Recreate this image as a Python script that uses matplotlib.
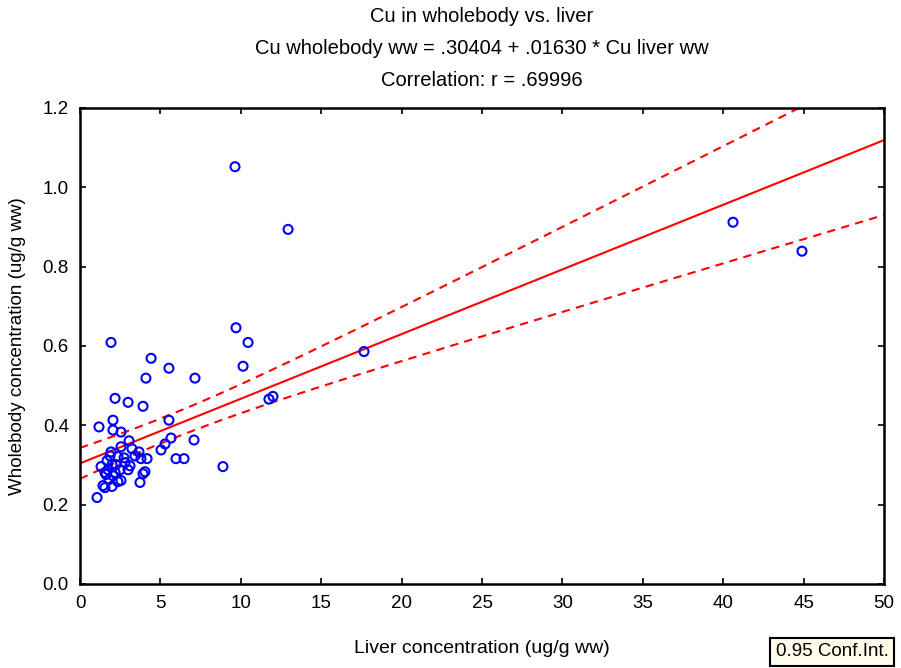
import numpy as np
import matplotlib
matplotlib.use("Agg")
import matplotlib.pyplot as plt
from matplotlib import font_manager

# Copper concentrations (ug/g wet weight)
liver_cu = [
    9.64, 12.94, 40.61, 44.90, 9.70, 10.45, 10.14, 17.66, 1.93, 4.42,
    5.53, 4.10, 7.15, 2.18, 2.99, 3.92, 11.75, 12.00, 1.18, 2.05,
    5.53, 2.05, 2.55, 3.05, 5.66, 7.09, 5.29, 5.04, 2.55, 1.93,
    3.23, 3.67, 3.79, 4.17, 5.97, 6.47, 8.89, 1.31, 1.68, 2.36,
    1.99, 2.80, 2.99, 1.55, 2.18, 1.80, 2.36, 2.55, 1.55, 1.43,
    1.06, 3.73, 3.92, 4.04, 3.11, 1.74, 2.05, 1.87, 2.49, 2.24,
    2.74, 3.42, 1.62, 1.99,
]
wholebody_cu = [
    1.052, 0.894, 0.912, 0.839, 0.646, 0.609, 0.549, 0.586, 0.609, 0.569,
    0.544, 0.519, 0.519, 0.468, 0.458, 0.448, 0.466, 0.473, 0.396, 0.413,
    0.413, 0.388, 0.383, 0.361, 0.368, 0.363, 0.353, 0.338, 0.346, 0.333,
    0.341, 0.333, 0.316, 0.316, 0.316, 0.316, 0.296, 0.296, 0.311, 0.321,
    0.301, 0.306, 0.288, 0.281, 0.281, 0.263, 0.258, 0.261, 0.243, 0.248,
    0.218, 0.256, 0.278, 0.283, 0.298, 0.288, 0.273, 0.323, 0.288, 0.301,
    0.318, 0.323, 0.276, 0.246,
]

# Fitted regression reported in the title
intercept = 0.30404
slope = 0.01630
r_value = 0.69996
conf_level = 0.95

x_ticks = [0, 5, 10, 15, 20, 25, 30, 35, 40, 45, 50]
y_ticks = [0.0, 0.2, 0.4, 0.6, 0.8, 1.0, 1.2]

names = {f.name for f in font_manager.fontManager.ttflist}
base_font = "Liberation Sans" if "Liberation Sans" in names else "DejaVu Sans"
plt.rcParams["font.family"] = [base_font, "DejaVu Sans"]

x = np.asarray(liver_cu)
y = np.asarray(wholebody_cu)
n = len(x)

# Confidence band for the mean response
resid = y - (intercept + slope * x)
s_err = np.sqrt(np.sum(resid ** 2) / (n - 2))
sxx = np.sum((x - x.mean()) ** 2)
t_crit = 1.998  # two-sided 95%, ~62 df
xs = np.linspace(0, 50, 300)
fit = intercept + slope * xs
half = t_crit * s_err * np.sqrt(1.0 / n + (xs - x.mean()) ** 2 / sxx)

fig = plt.figure(figsize=(9.01, 6.68), dpi=100)
ax = fig.add_axes([80 / 901, 1 - 584 / 668, 804 / 901, 476 / 668])

ax.plot(xs, fit, color="#ff0000", lw=1.5, zorder=2)
ax.plot(xs, fit + half, color="#ff0000", lw=1.5, ls=(0, (4, 3)), zorder=2)
ax.plot(xs, fit - half, color="#ff0000", lw=1.5, ls=(0, (4, 3)), zorder=2)
ax.scatter(x, y, s=42, facecolors="none", edgecolors="#0000ff",
           linewidths=1.5, zorder=3, clip_on=False)

ax.set_xlim(0, 50)
ax.set_ylim(0, 1.2)
ax.set_xticks(x_ticks)
ax.set_yticks(y_ticks)
ax.set_xticklabels([str(t) for t in x_ticks])
ax.set_yticklabels([f"{t:.1f}" for t in y_ticks])
ax.tick_params(direction="in", length=4, width=1.2, labelsize=13.5,
               top=True, right=True, pad=8)
for sp in ax.spines.values():
    sp.set_linewidth(1.8)

ax.set_xlabel("Liver concentration (ug/g ww)", fontsize=14, labelpad=20)
ax.set_ylabel("Wholebody concentration (ug/g ww)", fontsize=13.5, labelpad=12)

title_lines = [
    "Cu in wholebody vs. liver",
    f"Cu wholebody ww = {intercept:.5f} + {slope:.5f} * Cu liver ww".replace("0.", "."),
    f"Correlation: r = {r_value:.5f}".replace("0.", "."),
]
for i, line in enumerate(title_lines):
    fig.text(482 / 901, 1 - (17 + 31.5 * i) / 668, line, ha="center", va="center",
             fontsize=14.5)

fig.text(832 / 901, 1 - 652 / 668, f"{conf_level:.2f} Conf.Int.", ha="center",
         va="center", fontsize=13.5,
         bbox=dict(boxstyle="square,pad=0.3", fc="#fffbea", ec="black", lw=1.5))

fig.savefig("out.png", dpi=100)
